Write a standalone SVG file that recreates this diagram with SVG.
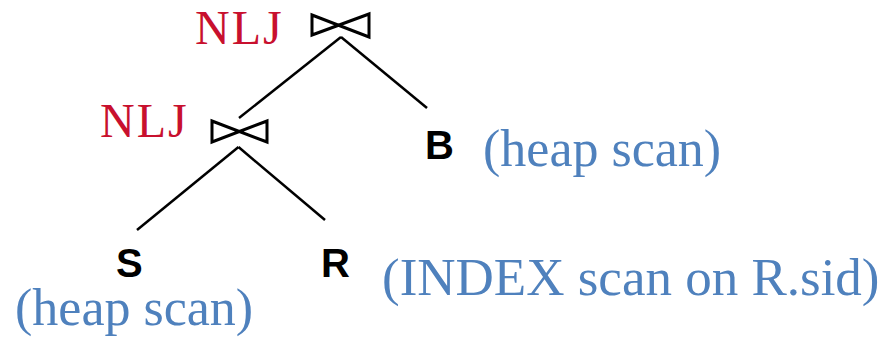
<svg xmlns="http://www.w3.org/2000/svg" width="885" height="339" viewBox="0 0 885 339">
<style>
.op{font-family:"Liberation Serif","Times New Roman",serif;font-size:48px;letter-spacing:2px;fill:#C8102E}
.rel{font-family:"Liberation Sans",Arial,sans-serif;font-size:40px;font-weight:bold;fill:#000}
.ann{font-family:"Liberation Serif","Times New Roman",serif;font-size:52px;fill:#4F81BD}
.edge{stroke:#000;stroke-width:2.5;fill:none;stroke-linecap:butt}
.join{stroke:#000;stroke-width:3;fill:none;stroke-linejoin:miter}
</style>
<rect width="885" height="339" fill="#fff"/>
<g id="connectors">
<line class="edge" x1="341" y1="37" x2="239" y2="118"/>
<line class="edge" x1="341" y1="37" x2="427" y2="108"/>
<line class="edge" x1="238.5" y1="147" x2="137" y2="230"/>
<line class="edge" x1="238.5" y1="147" x2="325" y2="220"/>
</g>
<g id="join1">
<path class="join" d="M312,15 L369,37 L369,14 L312,35 Z"/>
<text class="op" x="195" y="44">NLJ</text>
</g>
<g id="join2">
<path class="join" d="M212,121 L267,142 L267,121 L212,142 Z"/>
<text class="op" x="100" y="137">NLJ</text>
</g>
<g id="nodeB">
<text class="rel" x="425" y="159">B</text>
<text class="ann" x="483" y="166">(heap scan)</text>
</g>
<g id="nodeS">
<text class="rel" x="116" y="277">S</text>
<text class="ann" x="15" y="325">(heap scan)</text>
</g>
<g id="nodeR">
<text class="rel" x="321" y="277">R</text>
<text class="ann" x="382" y="295" style="font-size:53px">(INDEX scan on R.sid)</text>
</g>
</svg>
